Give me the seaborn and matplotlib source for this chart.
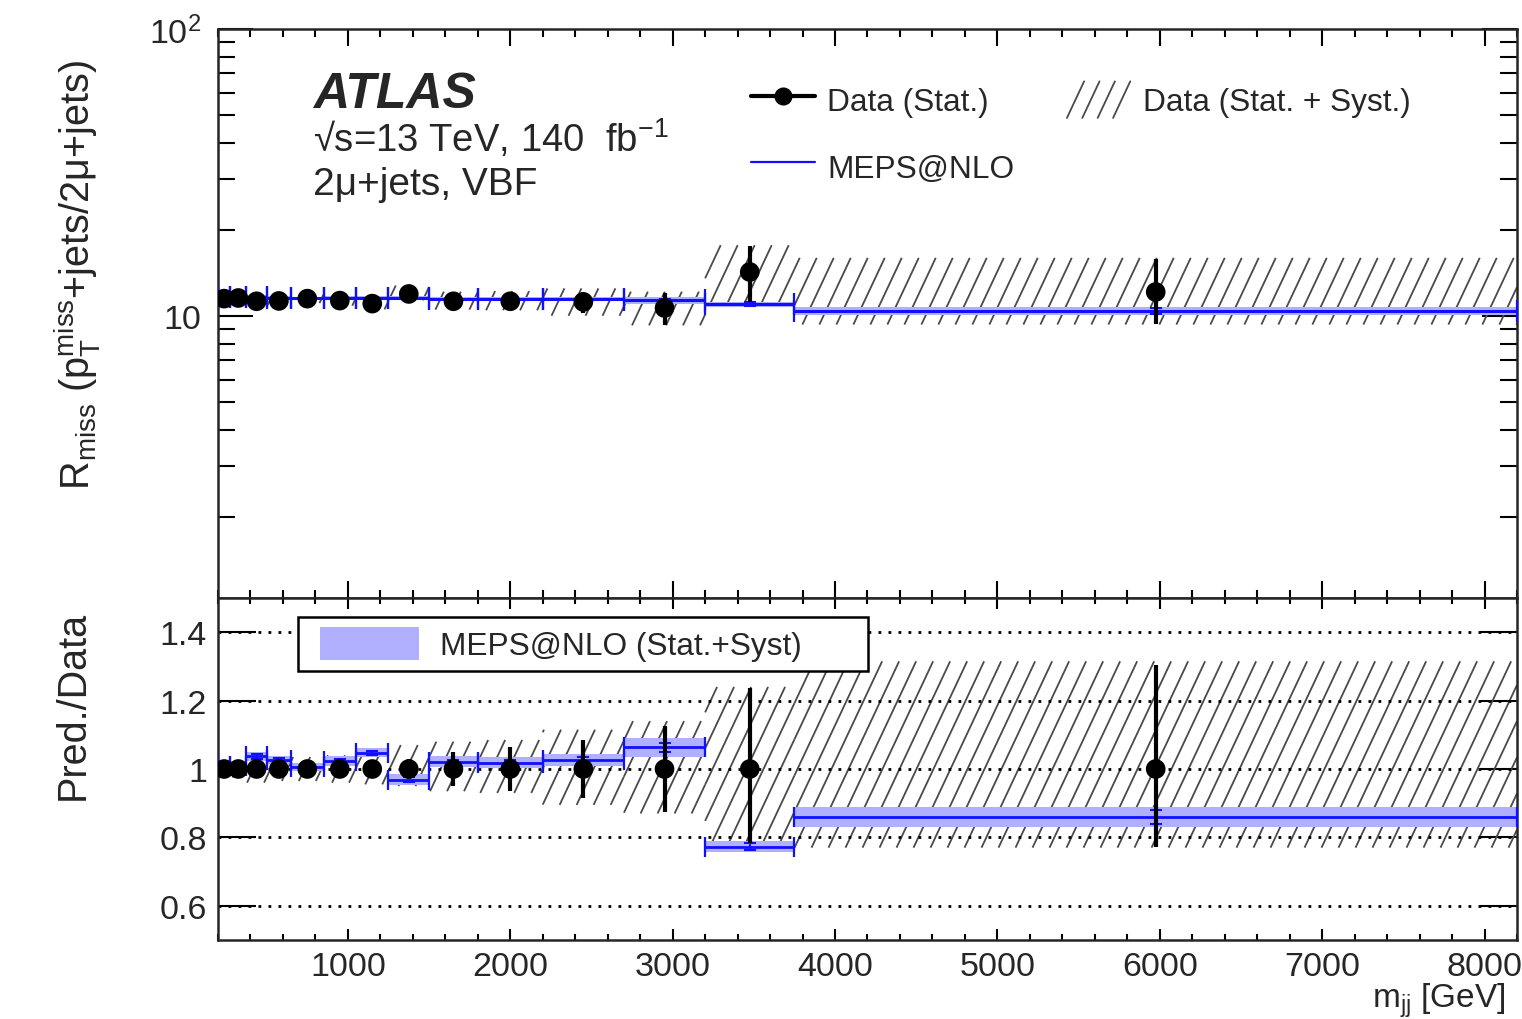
import numpy as np
import pandas as pd
import matplotlib
matplotlib.use("Agg")
import matplotlib.pyplot as plt
import seaborn as sns
from matplotlib.patches import Patch, Rectangle
from matplotlib.lines import Line2D
from matplotlib.collections import LineCollection
from matplotlib.transforms import IdentityTransform
from matplotlib.legend_handler import HandlerBase, HandlerPatch
from matplotlib.ticker import MultipleLocator, FixedLocator, FuncFormatter, LogLocator, NullFormatter

# ---------------- data ----------------
bin_edges = [200, 275, 375, 500, 650, 850, 1050, 1250, 1500, 1800, 2200, 2700, 3200, 3750, 8200]
data_rmiss = [11.49, 11.55, 11.25, 11.28, 11.49, 11.31, 11.04, 11.93, 11.25, 11.25, 11.19, 10.66, 14.23, 12.12]
# relative data uncertainties
data_stat_up = [0.010, 0.010, 0.010, 0.010, 0.010, 0.012, 0.020, 0.030, 0.049, 0.063, 0.085, 0.127, 0.236, 0.304]
data_stat_dn = [0.010, 0.010, 0.010, 0.010, 0.010, 0.012, 0.020, 0.030, 0.049, 0.063, 0.085, 0.127, 0.215, 0.229]
data_tot_up = [0.020, 0.025, 0.040, 0.035, 0.035, 0.040, 0.050, 0.070, 0.080, 0.085, 0.115, 0.140, 0.240, 0.315]
data_tot_dn = [0.020, 0.025, 0.040, 0.035, 0.035, 0.040, 0.045, 0.050, 0.065, 0.070, 0.105, 0.130, 0.230, 0.230]
# MEPS@NLO prediction / data
pred_ratio = [1.010, 1.010, 1.037, 1.026, 1.005, 1.024, 1.048, 0.969, 1.021, 1.019, 1.027, 1.063, 0.773, 0.860]
pred_band = [0.012, 0.012, 0.014, 0.012, 0.012, 0.014, 0.014, 0.016, 0.016, 0.017, 0.017, 0.027, 0.016, 0.029]
pred_stat = [0.005, 0.005, 0.008, 0.005, 0.005, 0.006, 0.006, 0.008, 0.006, 0.006, 0.008, 0.0125, 0.010, 0.020]

x_ticks = [1000, 2000, 3000, 4000, 5000, 6000, 7000, 8000]
ratio_ticks = [0.6, 0.8, 1.0, 1.2, 1.4]

# ---------------- derived ----------------
edges = np.array(bin_edges, float)
centers = 0.5 * (edges[1:] + edges[:-1])
widths = np.diff(edges)
d = np.array(data_rmiss)
s_up, s_dn = np.array(data_stat_up), np.array(data_stat_dn)
t_up, t_dn = np.array(data_tot_up), np.array(data_tot_dn)
r = np.array(pred_ratio)
rb = np.array(pred_band)
rs = np.array(pred_stat)
pred = d * r

df = pd.DataFrame({"mjj": centers, "rmiss": d, "one": np.ones_like(d)})

# ---------------- style ----------------
sns.set_theme(style="ticks")
plt.rcParams["font.family"] = ["Liberation Sans", "DejaVu Sans"]
plt.rcParams["mathtext.fontset"] = "custom"
plt.rcParams["mathtext.rm"] = "Liberation Sans"
plt.rcParams["mathtext.it"] = "Liberation Sans:italic"
plt.rcParams["mathtext.bf"] = "Liberation Sans:bold"
plt.rcParams["axes.linewidth"] = 1.8

W, H = 1522, 1020
fig = plt.figure(figsize=(W / 100, H / 100), dpi=100)
L, R = 218, 1517
T1, B1, B2 = 30, 599, 941
ax1 = fig.add_axes([L / W, 1 - B1 / H, (R - L) / W, (B1 - T1) / H])
ax2 = fig.add_axes([L / W, 1 - B2 / H, (R - L) / W, (B2 - B1) / H])

hatch_col = "#4a4a4a"
band_col = (0.69, 0.69, 1.0)
blue = "#1010ff"
TICKFS = 24.5
LEGFS = 22.8
HATCH_COT = 0.47      # steep ROOT-like hatch (about 65 degrees)
HATCH_STEP = 17.0     # horizontal spacing of hatch lines in pixels
TOP_YLIM = (1.04, 100)


def steep_hatch(ax, x0s, x1s, y0s, y1s):
    """Draw steep diagonal hatch lines inside each bin's error rectangle."""
    segs = []
    for x0, x1, y0, y1 in zip(x0s, x1s, y0s, y1s):
        (X0, Y0), (X1, Y1) = ax.transData.transform([[x0, y0], [x1, y1]])
        kmin = int(np.floor((X0 - Y1 * HATCH_COT) / HATCH_STEP)) - 1
        kmax = int(np.ceil((X1 - Y0 * HATCH_COT) / HATCH_STEP)) + 1
        for k in range(kmin, kmax + 1):
            c = k * HATCH_STEP
            ya = max(Y0, (X0 - c) / HATCH_COT)
            yb = min(Y1, (X1 - c) / HATCH_COT)
            if yb > ya:
                segs.append([(c + ya * HATCH_COT, ya), (c + yb * HATCH_COT, yb)])
    lc = LineCollection(segs, colors=hatch_col, linewidths=1.3,
                        transform=IdentityTransform(), zorder=1)
    ax.add_collection(lc, autolim=False)


class HatchProxy:
    pass


class HatchHandler(HandlerBase):
    def create_artists(self, legend, orig_handle, xdescent, ydescent, width, height,
                       fontsize, trans):
        n = 4
        dx = height * HATCH_COT
        step = (width - dx) / (n - 1)
        arts = []
        for i in range(n):
            xb = -xdescent + i * step
            arts.append(Line2D([xb, xb + dx], [-ydescent, -ydescent + height],
                               color=hatch_col, lw=1.3, transform=trans))
        return arts


def band_patch(legend, orig_handle, xdescent, ydescent, width, height, fontsize):
    off = 12.0 * 72 / 100  # points
    return Rectangle((-xdescent + off, -ydescent), width - off, height)


# ---------------- top panel ----------------
ax1.set_yscale("log")
ax1.set_xlim(bin_edges[0], bin_edges[-1])
ax1.set_ylim(*TOP_YLIM)
steep_hatch(ax1, edges[:-1], edges[1:], d * (1 - t_dn), d * (1 + t_up))
ax1.bar(centers, 2 * d * rb, bottom=d * (r - rb), width=widths, color=band_col,
        linewidth=0, zorder=2)
ax1.errorbar(centers, pred, xerr=widths / 2, fmt="none", ecolor=blue, elinewidth=2.2,
             capsize=8, capthick=1.6, zorder=3)
ax1.errorbar(centers, pred, yerr=d * rs, fmt="none", ecolor=blue, elinewidth=1.5,
             capsize=4, capthick=1.5, zorder=3)
ax1.errorbar(centers, d, yerr=[d * s_dn, d * s_up], fmt="none", ecolor="black",
             elinewidth=3, zorder=4)
sns.scatterplot(data=df, x="mjj", y="rmiss", color="black", s=200, edgecolor="none",
                ax=ax1, zorder=5, legend=False)

ax1.set_xlim(bin_edges[0], bin_edges[-1])
ax1.set_ylim(*TOP_YLIM)
ax1.xaxis.set_major_locator(FixedLocator(x_ticks))
ax1.xaxis.set_minor_locator(MultipleLocator(200))
ax1.yaxis.set_major_locator(FixedLocator([10, 100]))
ax1.yaxis.set_minor_locator(LogLocator(base=10, subs=np.arange(2, 10)))
ax1.yaxis.set_minor_formatter(NullFormatter())


def top_fmt(v, pos):
    if abs(v - 10) < 1e-6:
        return "10"
    if abs(v - 100) < 1e-6:
        return r"$\mathregular{10^{2}}$"
    return ""


ax1.yaxis.set_major_formatter(FuncFormatter(top_fmt))
ax1.tick_params(axis="both", which="both", direction="in", top=True, right=True,
                labelbottom=False, labelsize=TICKFS, width=1.5, color="black")
ax1.tick_params(axis="y", which="major", length=25, pad=12)
ax1.tick_params(axis="y", which="minor", length=12)
ax1.tick_params(axis="x", which="major", length=12)
ax1.tick_params(axis="x", which="minor", length=6)
ax1.set_xlabel("")
ax1.set_ylabel(r"$\mathregular{R_{miss}}$ ($\mathregular{p_{T}^{miss}}$+jets/2μ+jets)",
               fontsize=28.5)
ax1.yaxis.label.set_va("center")
ax1.yaxis.set_label_coords(-0.108, 0.57)

ax1.text(0.0731, 0.863, "ATLAS", transform=ax1.transAxes, fontsize=36,
         fontweight="bold", fontstyle="italic", va="baseline", ha="left")
ax1.text(0.0731, 0.786, r"√s=13 TeV, 140  fb$\mathregular{^{-1}}$", transform=ax1.transAxes,
         fontsize=27.5, va="baseline", ha="left")
ax1.text(0.0731, 0.710, "2μ+jets, VBF", transform=ax1.transAxes, fontsize=28,
         va="baseline", ha="left")

h_data = Line2D([], [], color="black", lw=3, marker="o", markersize=12)
h_pred = Line2D([], [], color=blue, lw=1.6)
h_tot = HatchProxy()
leg1 = ax1.legend([h_data, h_pred, h_tot],
                  ["Data (Stat.)", "MEPS@NLO", "Data (Stat. + Syst.)"],
                  handler_map={HatchProxy: HatchHandler()},
                  ncol=2, loc="upper left", bbox_to_anchor=(0.4105, 0.908), frameon=False,
                  fontsize=LEGFS, borderpad=0, borderaxespad=0, handlelength=2.0,
                  handleheight=1.4, handletextpad=0.4, columnspacing=1.66,
                  labelspacing=0.95)

# ---------------- ratio panel ----------------
ax2.set_xlim(bin_edges[0], bin_edges[-1])
ax2.set_ylim(0.5, 1.5)
steep_hatch(ax2, edges[:-1], edges[1:], 1 - t_dn, 1 + t_up)
for yv in ratio_ticks:
    ax2.axhline(yv, color="black", lw=2, linestyle=(0, (1, 2.6)), zorder=1.5)
ax2.bar(centers, 2 * rb, bottom=r - rb, width=widths, color=band_col, linewidth=0,
        zorder=2)
ax2.errorbar(centers, r, xerr=widths / 2, fmt="none", ecolor=blue, elinewidth=2.0,
             capsize=7, capthick=1.6, zorder=3)
ax2.errorbar(centers, r, yerr=rs, fmt="none", ecolor=blue, elinewidth=1.5,
             capsize=4, capthick=1.5, zorder=3)
ax2.errorbar(centers, np.ones_like(d), yerr=[s_dn, s_up], fmt="none", ecolor="black",
             elinewidth=3, zorder=4)
sns.scatterplot(data=df, x="mjj", y="one", color="black", s=200, edgecolor="none",
                ax=ax2, zorder=5, legend=False)

ax2.set_xlim(bin_edges[0], bin_edges[-1])
ax2.set_ylim(0.5, 1.5)
ax2.xaxis.set_major_locator(FixedLocator(x_ticks))
ax2.xaxis.set_major_formatter(FuncFormatter(lambda v, p: f"{v:.0f}"))
ax2.xaxis.set_minor_locator(MultipleLocator(200))
ax2.yaxis.set_major_locator(FixedLocator(ratio_ticks))
ax2.yaxis.set_major_formatter(FuncFormatter(lambda v, p: f"{v:g}"))
ax2.tick_params(axis="both", which="both", direction="in", top=True, right=True,
                labelsize=TICKFS, width=1.5, color="black")
ax2.tick_params(axis="y", which="major", length=27, pad=8)
ax2.tick_params(axis="x", which="major", length=8, pad=8)
ax2.tick_params(axis="x", which="minor", length=4)
ax2.set_ylabel("Pred./Data", fontsize=28.5)
ax2.yaxis.label.set_va("center")
ax2.yaxis.set_label_coords(-0.112, 0.69)
ax2.set_xlabel(r"$\mathregular{m_{jj}}$ [GeV]", fontsize=24, loc="right")
ax2.xaxis.set_label_coords(0.991, -0.117)
ax2.xaxis.label.set_va("top")

h_band = Patch(facecolor=band_col, edgecolor="none")
leg2 = ax2.legend([h_band], ["MEPS@NLO (Stat.+Syst)"], loc="upper left",
                  handler_map={Patch: HandlerPatch(patch_func=band_patch)},
                  bbox_to_anchor=(0.0616, 0.944 - 0.1696, 0.4388, 0.1696),
                  mode="expand", fontsize=LEGFS, frameon=True, fancybox=False,
                  edgecolor="black", framealpha=1, borderpad=0.31, borderaxespad=0,
                  handlelength=3.5, handleheight=1.23, handletextpad=0.66)
leg2.get_frame().set_linewidth(1.8)

fig.savefig("out.png", dpi=100)
